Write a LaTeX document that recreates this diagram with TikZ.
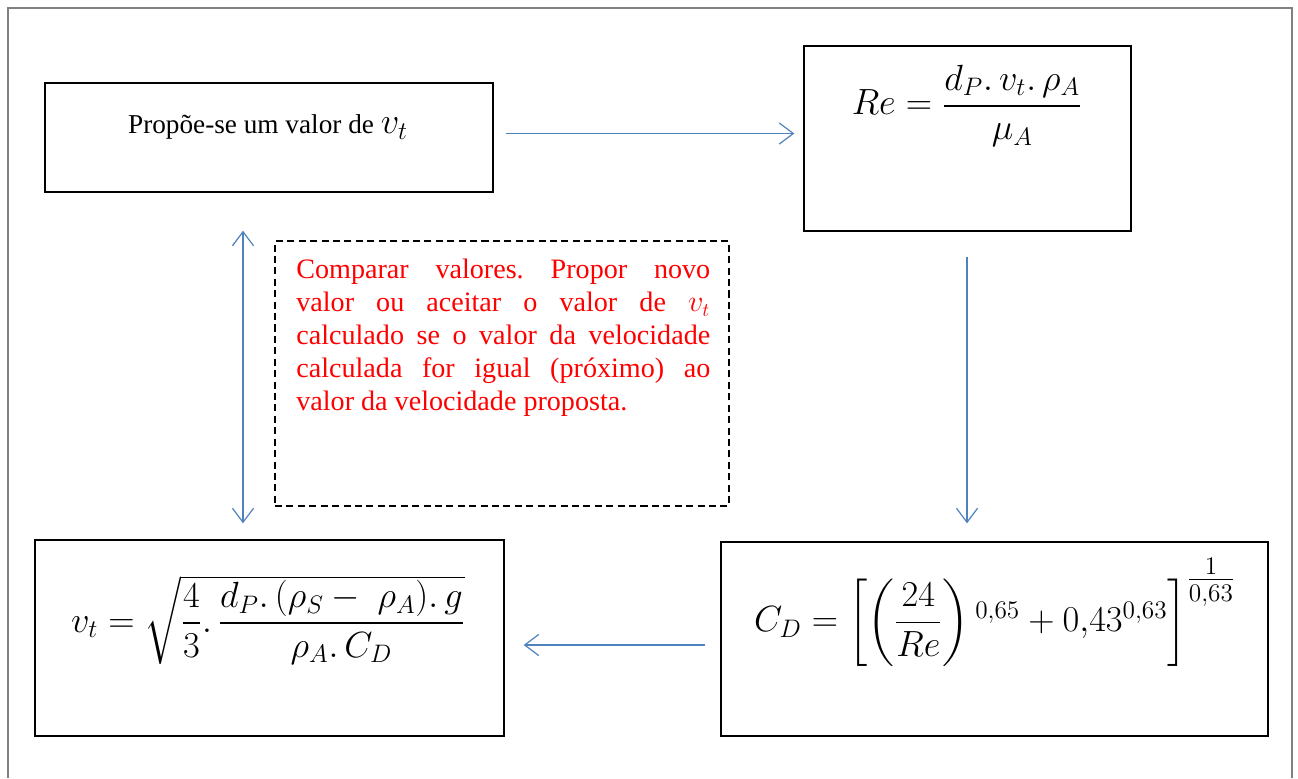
\documentclass[tikz,border=0pt]{standalone}
\usepackage{amsmath}
\usepackage{fontspec}
\setmainfont{Liberation Serif}
\usetikzlibrary{arrows.meta,calc}
\definecolor{azulseta}{RGB}{79,129,189}
\begin{document}
\begin{tikzpicture}[x=0.02cm, y=-0.02cm, >={Straight Barb[length=8pt,width=12pt]},
    caixa/.style={draw, line width=0.8pt, inner sep=0pt},
    seta/.style={->, azulseta, line width=0.7pt},
    formula/.style={inner sep=0pt, font=\fontsize{20}{24}\selectfont}]
  \useasboundingbox (0,0) rectangle (1298,778);
  % moldura
  \draw[gray, line width=0.6pt] (8,778) -- (8,8) -- (1292,8) -- (1292,778);

  % caixas
  \node[caixa, minimum width=8.96cm, minimum height=2.18cm] (proposta) at (269,137.5) {};
  \node[caixa, minimum width=6.54cm, minimum height=3.70cm] (reynolds) at (967.5,138.5) {};
  \node[caixa, minimum width=10.94cm, minimum height=3.88cm] (arrasto) at (994.5,639) {};
  \node[caixa, minimum width=9.38cm, minimum height=3.92cm] (velocidade) at (269.5,638) {};
  \node[draw, dashed, line width=0.7pt, dash pattern=on 4pt off 2.5pt, inner sep=0pt,
        minimum width=9.08cm, minimum height=5.30cm] (comparar) at (502,373.5) {};

  % textos
  \node[inner sep=0pt, font=\fontsize{15.5}{18}\selectfont] (txtproposta) at (268,127)
    {Propõe-se um valor de {\fontsize{21}{24}\selectfont$v_t$}};
  \node[formula] (txtre) at (967,106) {$Re=\dfrac{d_P.\,v_t.\,\rho_A}{\mu_A}$};
  \node[formula, font=\fontsize{21}{25}\selectfont] (txtvt) at (268,620)
    {$v_t=\sqrt{\dfrac{4}{3}.\,\dfrac{d_P.\,(\rho_S-\ \rho_A).\,g}{\rho_A.\,C_D}}$};
  \node[formula, font=\fontsize{21}{25}\selectfont] (txtcd) at (995,612)
    {$C_D=\biggl[\biggl(\dfrac{24}{Re}\biggr)\,{}^{0{,}65}+0{,}43^{0{,}63}\biggr]^{\tfrac{1}{0{,}63}}$};
  \node[red, anchor=north west, inner sep=0pt, text width=8.28cm, align=justify,
        font=\fontsize{16}{18.7}\selectfont] (txtcomparar) at (296,259)
    {\frenchspacing\tolerance=10000 Comparar valores. Propor novo\linebreak
     valor ou aceitar o valor de $v_t$\linebreak
     calculado se o valor da velocidade\linebreak
     calculada for igual (próximo) ao\linebreak
     valor da velocidade proposta.};

  % setas
  \draw[seta, shorten <=12*0.02cm, shorten >=9*0.02cm] ($(proposta.east)+(0,-4)$) -- ($(proposta.east -| reynolds.west)+(0,-4)$);
  \draw[seta, shorten <=25*0.02cm, shorten >=18*0.02cm] ($(reynolds.south)+(-0.5,0)$) -- ($(reynolds.south |- arrasto.north)+(-0.5,0)$);
  \draw[seta, shorten <=15*0.02cm, shorten >=19*0.02cm] ($(arrasto.west)+(0,6)$) -- ($(velocidade.east)+(0,7)$);
  \draw[seta, <->] ($(proposta.south)+(-26,38)$) -- ($(velocidade.north)+(-26.5,-16)$);
\end{tikzpicture}
\end{document}
